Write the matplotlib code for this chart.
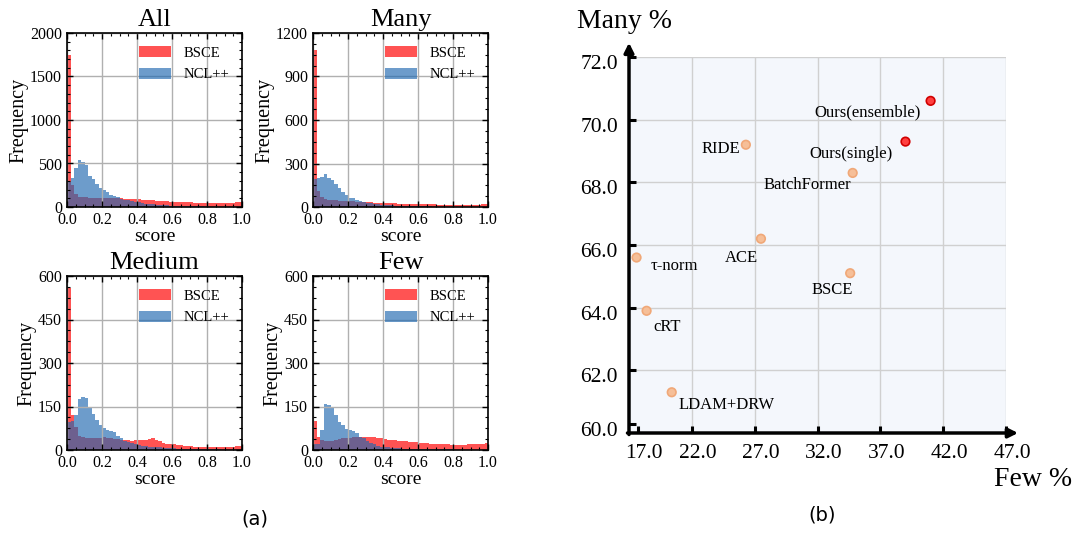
import numpy as np
import matplotlib
matplotlib.use("Agg")
import matplotlib.pyplot as plt
import matplotlib.transforms as mtransforms
from matplotlib.ticker import AutoMinorLocator

plt.rcParams['font.family'] = ['Liberation Serif', 'DejaVu Serif']
plt.rcParams['mathtext.fontset'] = 'stix'

# ---- (a) score histograms: counts per bin of width 0.02 on [0, 1] ----
bin_edges = np.linspace(0, 1, 51)

all_bsce = [1750, 250, 150, 120, 110, 110, 105, 100, 100, 100, 100, 100, 100, 100, 100, 100, 95, 95, 95, 90,
            90, 85, 85, 80, 75, 72, 70, 68, 65, 62, 60, 58, 56, 55, 54, 52, 50, 50, 48, 48,
            46, 46, 45, 45, 46, 47, 48, 50, 52, 58]
all_ncl = [290, 330, 450, 545, 520, 480, 360, 320, 260, 220, 200, 170, 140, 125, 110, 95, 85, 75, 65, 58,
           52, 46, 40, 36, 32, 28, 25, 22, 20, 17, 15, 13, 12, 10, 9, 8, 7, 6, 6, 5,
           5, 4, 4, 3, 3, 3, 2, 2, 2, 2]

many_bsce = [1080, 110, 70, 55, 50, 45, 45, 42, 40, 40, 38, 38, 36, 35, 34, 33, 32, 30, 30, 29,
             28, 27, 26, 25, 24, 23, 22, 22, 21, 20, 20, 19, 19, 18, 18, 17, 17, 17, 16, 16,
             16, 16, 15, 15, 15, 16, 16, 17, 18, 20]
many_ncl = [195, 200, 210, 225, 200, 185, 160, 130, 105, 80, 65, 60, 50, 42, 36, 30, 26, 22, 19, 16,
            14, 12, 11, 10, 9, 8, 7, 6, 6, 5, 5, 4, 4, 4, 3, 3, 3, 3, 2, 2,
            2, 2, 2, 2, 1, 1, 1, 1, 1, 1]

medium_bsce = [560, 120, 80, 50, 45, 42, 40, 40, 40, 42, 45, 42, 40, 38, 38, 36, 35, 34, 32, 33,
               34, 35, 36, 38, 40, 35, 30, 25, 22, 20, 20, 18, 16, 15, 14, 13, 12, 12, 11, 11,
               10, 10, 10, 10, 10, 11, 11, 12, 13, 15]
medium_ncl = [95, 100, 120, 175, 182, 180, 150, 125, 105, 85, 75, 68, 65, 62, 50, 40, 32, 28, 24, 20,
              18, 15, 13, 12, 11, 10, 9, 8, 7, 7, 6, 5, 5, 4, 4, 3, 3, 3, 2, 2,
              2, 2, 2, 2, 1, 1, 1, 1, 1, 1]

few_bsce = [100, 45, 35, 30, 30, 32, 35, 38, 40, 42, 42, 44, 45, 45, 46, 45, 45, 44, 42, 40,
            38, 36, 34, 33, 32, 30, 30, 28, 27, 26, 25, 24, 23, 22, 21, 20, 20, 19, 19, 18,
            18, 18, 18, 18, 19, 19, 20, 21, 22, 25]
few_ncl = [20, 22, 70, 158, 155, 150, 120, 95, 85, 72, 70, 65, 60, 45, 40, 32, 25, 20, 15, 12,
           10, 9, 8, 7, 6, 5, 5, 4, 4, 4, 3, 3, 3, 3, 2, 2, 2, 2, 2, 2,
           1, 1, 1, 1, 1, 1, 1, 1, 1, 1]

panel_titles = ['All', 'Many', 'Medium', 'Few']
panel_bsce = [all_bsce, many_bsce, medium_bsce, few_bsce]
panel_ncl = [all_ncl, many_ncl, medium_ncl, few_ncl]
panel_yticks = [[0, 500, 1000, 1500, 2000], [0, 300, 600, 900, 1200],
                [0, 150, 300, 450, 600], [0, 150, 300, 450, 600]]

# ---- (b) Few vs Many accuracy ----
methods = ['Ours(ensemble)', 'Ours(single)', 'RIDE', 'BatchFormer', 'ACE',
           'τ-norm', 'BSCE', 'cRT', 'LDAM+DRW']
few_acc = [41.0, 39.0, 26.3, 34.8, 27.5, 17.6, 34.6, 18.4, 20.4]
many_acc = [70.6, 69.3, 69.2, 68.3, 66.2, 65.6, 65.1, 63.9, 61.3]
x_ticks = [17.0, 22.0, 27.0, 32.0, 37.0, 42.0, 47.0]
y_ticks = [60.0, 62.0, 64.0, 66.0, 68.0, 70.0, 72.0]

fig = plt.figure(figsize=(10.79, 5.34), dpi=100)

W, H = 1079, 534
boxes = [(67, 33), (313, 33), (67, 276), (313, 276)]
for (px, py), title, bsce, ncl, yt in zip(boxes, panel_titles, panel_bsce, panel_ncl, panel_yticks):
    ax = fig.add_axes([px / W, 1 - (py + 174) / H, 175 / W, 174 / H])
    ax.bar(bin_edges[:-1], bsce, width=0.02, align='edge', color='#ff1a1a', alpha=0.75,
           linewidth=0, label='BSCE')
    ax.bar(bin_edges[:-1], ncl, width=0.02, align='edge', color='#1f68b0', alpha=0.65,
           linewidth=0, label='NCL++')
    ax.set_xlim(0, 1)
    ax.set_ylim(yt[0], yt[-1])
    ax.set_xticks(np.arange(0, 1.01, 0.2))
    ax.set_xticklabels(['%.1f' % v for v in np.arange(0, 1.01, 0.2)])
    ax.set_yticks(yt)
    ax.xaxis.set_minor_locator(AutoMinorLocator())
    ax.yaxis.set_minor_locator(AutoMinorLocator())
    ax.tick_params(which='both', direction='in', top=True, right=True, labelsize=11.5)
    ax.tick_params(which='major', length=4, width=1)
    ax.tick_params(which='minor', length=2, width=0.8)
    ax.grid(True, color='#b0b0b0', linewidth=1)
    for s in ax.spines.values():
        s.set_linewidth(1.2)
    ax.set_title(title, fontsize=19, pad=5)
    ax.set_xlabel('score', fontsize=14, labelpad=0)
    ax.set_ylabel('Frequency', fontsize=14.5, labelpad=1)
    ax.legend(loc='upper right', frameon=False, fontsize=10.5, handlelength=2.2,
              handleheight=0.8, labelspacing=0.55)

# scatter panel
ax = fig.add_axes([629 / W, 1 - 433 / H, 377 / W, 376 / H])
ax.set_facecolor('#f4f7fc')
ax.set_xlim(17, 47)
ax.set_ylim(60, 72)
ax.grid(True, color='#d0d0d0', linewidth=1)
ax.set_axisbelow(True)
for s in ax.spines.values():
    s.set_visible(False)

# first ticks sit a little inside the corner, as in the figure
xpos = [17.7] + x_ticks[1:]
ypos = [60.3] + y_ticks[1:]
ax.set_xticks(xpos)
ax.set_xticklabels(['%.1f' % v for v in x_ticks])
ax.set_yticks(ypos)
ax.set_yticklabels(['%.1f' % v for v in y_ticks])
ax.tick_params(direction='in', length=5, width=2.2, labelsize=15.5, pad=8, color='black')
ax.xaxis.get_gridlines()[0].set_visible(False)
ax.yaxis.get_gridlines()[0].set_visible(False)

dx = mtransforms.ScaledTranslation(6 / 100, 0, fig.dpi_scale_trans)
dy = mtransforms.ScaledTranslation(0, -5 / 100, fig.dpi_scale_trans)
for t in ax.xaxis.get_major_ticks():
    t.label1.set_transform(t.label1.get_transform() + dx)
for t in ax.yaxis.get_major_ticks():
    t.label1.set_transform(t.label1.get_transform() + dy)

ax.annotate('', xy=(1.032, 0), xytext=(-0.004, 0), xycoords='axes fraction',
            arrowprops=dict(arrowstyle='-|>', lw=2.5, color='black', mutation_scale=14,
                            shrinkA=0, shrinkB=0), annotation_clip=False)
ax.annotate('', xy=(0, 1.038), xytext=(0, -0.004), xycoords='axes fraction',
            arrowprops=dict(arrowstyle='-|>', lw=2.5, color='black', mutation_scale=14,
                            shrinkA=0, shrinkB=0), annotation_clip=False)

face = ['#ff4040', '#ff4040'] + ['#f6bf98'] * 7
edge = ['#d10000', '#d10000'] + ['#f0a878'] * 7
ax.scatter(few_acc, many_acc, s=38, c=face, edgecolors=edge, linewidths=1.2, zorder=3,
           clip_on=False)

offsets = [(-7, -8, 'right'), (-9, -9, 'right'), (-4, -3, 'right'), (-1, -9, 'right'),
           (-2, -14, 'right'), (10, -6, 'left'), (2, -12, 'right'), (5, -12, 'left'),
           (5, -9, 'left')]
for name, xv, yv, (ox, oy, ha) in zip(methods, few_acc, many_acc, offsets):
    ax.annotate(name, (xv, yv), xytext=(ox, oy), textcoords='offset points',
                ha=ha, va='center', fontsize=12)

fig.text(577 / W, 1 - 22 / H, 'Many %', fontsize=20, ha='left', va='center')
fig.text(1072 / W, 1 - 479 / H, 'Few %', fontsize=20, ha='right', va='center')

fig.text(255 / W, 1 - 519 / H, '(a)', fontsize=14, ha='center', va='center', family='DejaVu Sans')
fig.text(822 / W, 1 - 515 / H, '(b)', fontsize=14, ha='center', va='center', family='DejaVu Sans')

fig.savefig('out.png', dpi=100)
